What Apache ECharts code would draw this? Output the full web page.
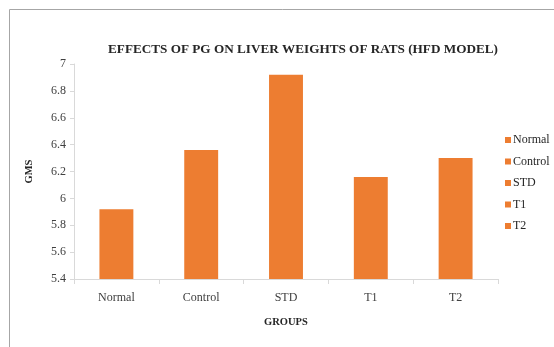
<!DOCTYPE html>
<html>
<head>
<meta charset="utf-8">
<script src="https://cdn.jsdelivr.net/npm/echarts@6/dist/echarts.min.js"></script>
<style>
  html, body { margin: 0; padding: 0; background: #fff; }
  #chart { width: 554px; height: 347px; }
</style>
</head>
<body>
<div id="chart"></div>
<script>
// Liver weights per treatment group
const groups = ['Normal', 'Control', 'STD', 'T1', 'T2'];
const weights = [5.92, 6.36, 6.92, 6.16, 6.30];
const yTicks = [5.4, 5.6, 5.8, 6, 6.2, 6.4, 6.6, 6.8, 7];

const barColor = '#ED7D31';
const serif = '"Liberation Serif", "Times New Roman", serif';

// One series per group so each gets its own legend entry; stacking keeps bars centred.
const series = groups.map((g, i) => ({
  name: g,
  type: 'bar',
  stack: 'all',
  barWidth: '40%',
  itemStyle: { color: barColor },
  data: groups.map((_, j) => (j === i ? weights[i] : '-'))
}));

const chart = echarts.init(document.getElementById('chart'));
chart.setOption({
  animation: false,
  title: {
    text: 'EFFECTS OF PG ON LIVER WEIGHTS OF RATS (HFD MODEL)',
    left: 298,
    top: 38,
    textAlign: 'center',
    textStyle: { fontFamily: serif, fontSize: 13.2, fontWeight: 'bold', color: '#262626' }
  },
  legend: {
    orient: 'vertical',
    left: 500,
    top: 129,
    itemWidth: 6,
    itemHeight: 6,
    itemGap: 9.5,
    icon: 'rect',
    textStyle: { fontFamily: serif, fontSize: 12, color: '#262626', padding: [0, 0, 0, -3] },
    data: groups.map(g => ({ name: g, itemStyle: { color: barColor } }))
  },
  grid: { left: 74, right: 56, top: 64, bottom: 68 },
  xAxis: {
    type: 'category',
    data: groups,
    name: 'GROUPS',
    nameLocation: 'middle',
    nameGap: 38,
    nameTextStyle: { fontFamily: serif, fontSize: 10.5, fontWeight: 'bold', color: '#262626' },
    axisLine: { lineStyle: { color: '#d9d9d9' } },
    axisTick: { show: true, length: 5, lineStyle: { color: '#d9d9d9' } },
    axisLabel: { fontFamily: serif, fontSize: 12, color: '#404040', margin: 13 }
  },
  yAxis: {
    type: 'value',
    min: yTicks[0],
    max: yTicks[yTicks.length - 1],
    interval: 0.2,
    name: 'GMS',
    nameLocation: 'middle',
    nameGap: 39,
    nameTextStyle: { fontFamily: serif, fontSize: 10.5, fontWeight: 'bold', color: '#262626' },
    axisLine: { show: true, lineStyle: { color: '#d9d9d9' } },
    axisTick: { show: true, length: 4, lineStyle: { color: '#d9d9d9' } },
    splitLine: { show: false },
    axisLabel: {
      fontFamily: serif, fontSize: 12, color: '#404040', margin: 8,
      formatter: v => String(Math.round(v * 10) / 10)
    }
  },
  graphic: [{
    type: 'rect',
    shape: { x: 9.5, y: 9.5, width: 600, height: 400 },
    style: { fill: 'none', stroke: '#a6a6a6', lineWidth: 1 },
    silent: true
  }],
  series: series
});
</script>
</body>
</html>
